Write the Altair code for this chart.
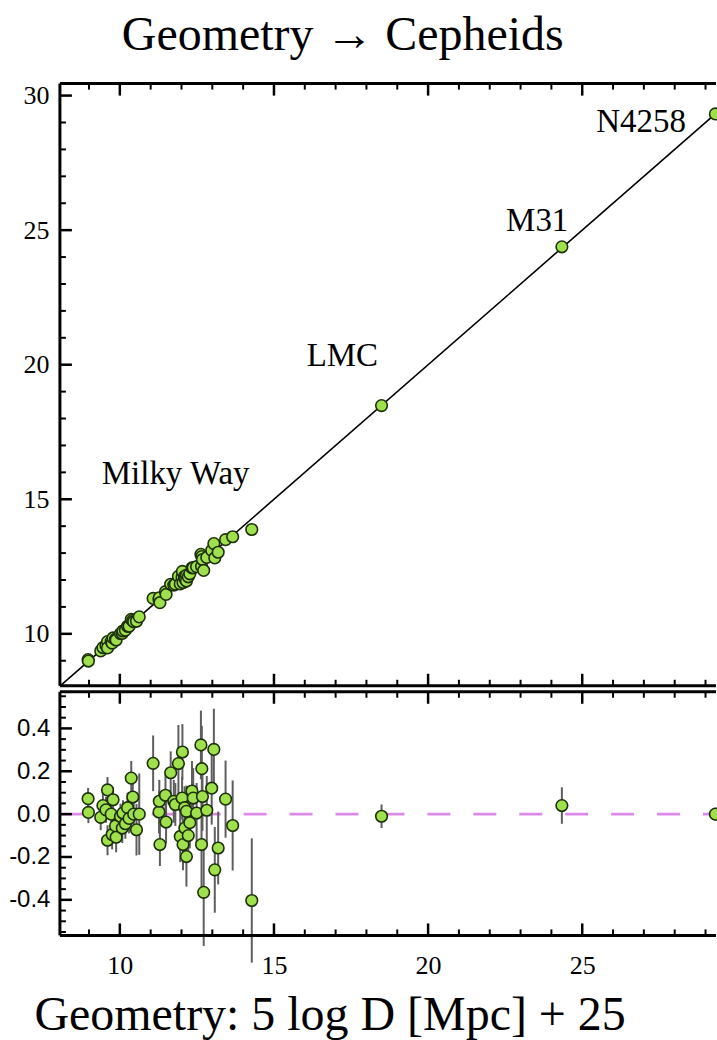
import altair as alt
import pandas as pd

# Milky Way Cepheids: geometric distance modulus, Cepheid residual, residual error
mw_geo = [8.97, 8.98, 9.38, 9.45, 9.55, 9.60, 9.60, 9.72, 9.75, 9.78, 9.86, 9.88,
          10.02, 10.08, 10.10, 10.18, 10.25, 10.30, 10.37, 10.42, 10.45, 10.54, 10.63,
          11.08, 11.27, 11.28, 11.30, 11.48, 11.50, 11.65, 11.75, 11.80, 11.90, 11.96,
          12.02, 12.03, 12.05, 12.10, 12.11, 12.16, 12.16, 12.22, 12.27, 12.34, 12.38,
          12.49, 12.63, 12.65, 12.66, 12.68, 12.72, 12.82, 12.98, 13.05, 13.08, 13.19,
          13.43, 13.66, 14.28]
mw_resid = [0.072, 0.008, -0.015, 0.040, 0.020, 0.113, -0.122, 0.000, -0.095, 0.067,
            -0.055, -0.108, -0.011, -0.065, 0.005, -0.045, 0.030, -0.020, 0.168, 0.080,
            0.000, -0.073, 0.000, 0.237, 0.010, 0.060, -0.142, 0.088, -0.037, 0.193,
            0.060, 0.045, 0.236, -0.104, 0.075, 0.290, -0.142, 0.030, -0.065, 0.013,
            -0.198, -0.100, -0.040, 0.108, 0.075, 0.005, 0.323, -0.142, 0.212, 0.082,
            -0.365, 0.018, 0.121, 0.302, -0.260, -0.158, 0.070, -0.053, -0.403]
mw_err = [0.05, 0.05, 0.06, 0.06, 0.06, 0.06, 0.07, 0.06, 0.07, 0.06, 0.07, 0.07,
          0.06, 0.07, 0.06, 0.07, 0.07, 0.07, 0.08, 0.08, 0.08, 0.12, 0.19,
          0.13, 0.10, 0.10, 0.10, 0.10, 0.10, 0.10, 0.10, 0.10, 0.18, 0.12,
          0.10, 0.13, 0.12, 0.10, 0.12, 0.12, 0.14, 0.12, 0.12, 0.14, 0.14,
          0.14, 0.16, 0.20, 0.20, 0.16, 0.25, 0.16, 0.17, 0.19, 0.20, 0.17,
          0.18, 0.21, 0.29]

# Geometric anchors
anchor_name = ["LMC", "M31", "N4258"]
anchor_geo = [18.49, 24.34, 29.32]
anchor_resid = [-0.010, 0.040, 0.000]
anchor_err = [0.055, 0.085, 0.030]

# Annotations
label_text = ["Milky Way", "LMC", "M31", "N4258"]
label_x = [11.81, 17.22, 23.54, 26.91]
label_y = [15.57, 19.94, 24.95, 28.66]

# Axis ranges and ticks
x_range = [8.056, 29.34]
y_range = [8.07, 30.445]
r_range = [-0.566, 0.571]
x_major = [10, 15, 20, 25]
x_minor = [9, 11, 12, 13, 14, 16, 17, 18, 19, 21, 22, 23, 24, 26, 27, 28, 29]
y_major = [10, 15, 20, 25, 30]
y_minor = [9, 11, 12, 13, 14, 16, 17, 18, 19, 21, 22, 23, 24, 26, 27, 28, 29]
r_major = [-0.4, -0.2, 0.0, 0.2, 0.4]
r_minor = [-0.55, -0.5, -0.45, -0.35, -0.3, -0.25, -0.15, -0.1, -0.05,
           0.05, 0.1, 0.15, 0.25, 0.3, 0.35, 0.45, 0.5, 0.55]
line_ends = [8.056, 29.32]

W, H1, H2 = 657, 603, 244
SERIF = "Liberation Serif"
SANS = "Liberation Sans"
FILL = "#9fe04c"
EDGE = "#1c3008"

mw = pd.DataFrame({"geo": mw_geo, "resid": mw_resid, "err": mw_err})
an = pd.DataFrame({"geo": anchor_geo, "resid": anchor_resid, "err": anchor_err})
pts = pd.concat([mw, an], ignore_index=True)
pts["ceph"] = pts["geo"] + pts["resid"]
pts["lo"] = pts["resid"] - pts["err"]
pts["hi"] = pts["resid"] + pts["err"]

xs = alt.Scale(domain=x_range, nice=False, zero=False)
ys = alt.Scale(domain=y_range, nice=False, zero=False)
rs = alt.Scale(domain=r_range, nice=False, zero=False)


def xenc(field, hidden):
    # x channel; the upper panel shows no x axis at all
    if hidden:
        return alt.X(field, scale=xs, axis=None)
    return alt.X(field, scale=xs)


def vticks(values, y0, y1, width, hidden):
    # tick marks along a horizontal edge, pointing into the panel
    return alt.Chart(pd.DataFrame({"v": values})).mark_rule(
        color="black", strokeWidth=width
    ).encode(x=xenc("v:Q", hidden), y=alt.value(y0), y2=alt.value(y1))


def hticks(values, scale, length, width):
    # tick marks along the left edge, pointing into the panel
    return alt.Chart(pd.DataFrame({"v": values})).mark_rule(
        color="black", strokeWidth=width
    ).encode(y=alt.Y("v:Q", scale=scale), x=alt.value(0), x2=alt.value(length))


def frame(yscale, yrange, h, hidden):
    # left, top and bottom borders of a panel
    edges = pd.DataFrame({"xa": [x_range[0]], "xb": [x_range[1]],
                          "ya": [yrange[0]], "yb": [yrange[1]]})
    base = alt.Chart(edges).mark_rule(color="black", strokeWidth=3)
    left = base.encode(y=alt.Y("ya:Q", scale=yscale), y2=alt.Y2("yb:Q"), x=alt.value(0))
    top = base.encode(x=xenc("xa:Q", hidden), x2=alt.X2("xb:Q"), y=alt.value(0))
    bottom = base.encode(x=xenc("xa:Q", hidden), x2=alt.X2("xb:Q"), y=alt.value(h))
    return [left, top, bottom]


def panel_ticks(yscale, ymaj, ymin, h, hidden):
    return [
        vticks(x_major, 0, 12, 2.5, hidden), vticks(x_minor, 0, 6, 2, hidden),
        vticks(x_major, h - 12, h, 2.5, hidden), vticks(x_minor, h - 6, h, 2, hidden),
        hticks(ymaj, yscale, 12, 2.5), hticks(ymin, yscale, 6, 2),
    ]


# ---- upper panel: Cepheid distance modulus against the geometric one ----
diag = alt.Chart(pd.DataFrame({"a": line_ends})).mark_line(
    color="black", strokeWidth=1.6
).encode(
    x=xenc("a:Q", True),
    y=alt.Y("a:Q", scale=ys, axis=alt.Axis(
        values=y_major, ticks=False, domain=False, grid=False, title=None,
        labelFont=SERIF, labelFontSize=26, labelColor="black", labelPadding=11,
        minExtent=60, maxExtent=60)),
)

upper_pts = alt.Chart(pts).mark_circle(
    size=135, color=FILL, opacity=1, stroke=EDGE, strokeWidth=1.6
).encode(x=xenc("geo:Q", True), y=alt.Y("ceph:Q", scale=ys))

labels = alt.Chart(pd.DataFrame({"t": label_text, "lx": label_x, "ly": label_y})).mark_text(
    font=SERIF, fontSize=33, color="black", align="center", baseline="alphabetic"
).encode(x=xenc("lx:Q", True), y=alt.Y("ly:Q", scale=ys), text=alt.Text("t:N"))

upper = alt.layer(
    diag, upper_pts, labels,
    *panel_ticks(ys, y_major, y_minor, H1, True),
    *frame(ys, y_range, H1, True),
).properties(width=W, height=H1)

# ---- lower panel: residuals ----
zero = alt.Chart(pd.DataFrame({"z": [0.0], "xa": [x_range[0]], "xb": [x_range[1]]})).mark_rule(
    color="#dc8ae8", strokeWidth=3, strokeDash=[23, 23]
).encode(
    y=alt.Y("z:Q", scale=rs, axis=alt.Axis(
        values=r_major, ticks=False, domain=False, grid=False, title=None,
        style="resid", labelFont=SANS, labelFontSize=24, labelColor="black", labelPadding=10,
        labelExpr="datum.value < 0 ? '-' + format(-datum.value, '.1f') : format(datum.value, '.1f')",
        minExtent=60, maxExtent=60)),
    x=xenc("xa:Q", False), x2=alt.X2("xb:Q"),
)

bars = alt.Chart(pts).mark_rule(color="#5e5e5e", strokeWidth=2).encode(
    x=alt.X("geo:Q", scale=xs, axis=alt.Axis(
        values=x_major, ticks=False, domain=False, grid=False,
        labelFont=SERIF, labelFontSize=26, labelColor="black", labelPadding=17,
        title="Geometry: 5 log D [Mpc] + 25", titleFont=SERIF, titleFontSize=48,
        titleFontWeight="normal", titleColor="black", titleAlign="left",
        titleBaseline="alphabetic", titleX=-26, titleY=94)),
    y=alt.Y("lo:Q", scale=rs),
    y2=alt.Y2("hi:Q"),
)

lower_pts = alt.Chart(pts).mark_circle(
    size=135, color=FILL, opacity=1, stroke=EDGE, strokeWidth=1.6
).encode(x=xenc("geo:Q", False), y=alt.Y("resid:Q", scale=rs))

lower = alt.layer(
    zero, bars, lower_pts,
    *panel_ticks(rs, r_major, r_minor, H2, False),
    *frame(rs, r_range, H2, False),
).properties(width=W, height=H2)

# the N4258 marker sits on the right edge; the negative right padding trims its overhang
chart = alt.vconcat(upper, lower, spacing=0).properties(
    title=alt.TitleParams(
        "Geometry → Cepheids", font=SERIF, fontSize=48, fontWeight="normal",
        color="black", anchor="start", dx=122, offset=22),
    padding={"left": 0, "top": 11, "right": -8, "bottom": 0},
).configure(
    axis={"labelFont": SERIF, "labelFontSize": 26, "labelColor": "black"},
    style={"resid": {"labelFont": SANS, "labelFontSize": 24}},
).configure_view(stroke=None)

chart.save("out.html", embed_options={"renderer": "svg", "actions": False})
